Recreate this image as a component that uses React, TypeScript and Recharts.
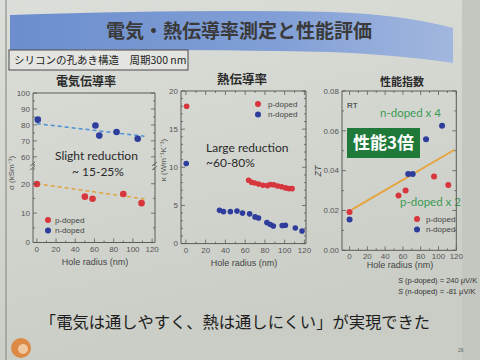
import React from "react";
import { ScatterChart, Scatter, XAxis, YAxis, ReferenceLine } from "recharts";

// 電気伝導率 sigma (kS/m) vs hole radius (nm)
const sigmaNRadius = [1, 61, 65, 83, 105];
const sigmaN = [83.3, 79.6, 73.3, 75.6, 71.3];
const sigmaPRadius = [0, 50, 58, 90, 109];
const sigmaP = [19.9, 15.6, 14.9, 16.5, 13.4];
const sigmaNFit = [[0, 80.8], [112, 72.9]];
const sigmaPFit = [[0, 20.0], [112, 14.8]];

// 熱伝導率 kappa (W/mK)
const kappaPRadius = [0.7, 63.5, 66.5, 69.5, 73.5, 78, 82.5, 85.5, 89, 93, 97, 101, 104.5, 107.5];
const kappaP = [18.0, 8.3, 8.05, 7.95, 7.8, 7.65, 7.6, 7.75, 7.7, 7.55, 7.45, 7.3, 7.2, 7.2];
const kappaNRadius = [0.3, 34, 38, 45, 51.7, 57.3, 64.5, 70, 73.5, 82, 85.5, 88.5, 97.5, 100.7, 110.8, 117.6];
const kappaN = [10.5, 4.36, 4.19, 4.19, 4.27, 4.0, 3.9, 3.5, 3.35, 2.75, 2.5, 2.3, 2.38, 2.4, 2.05, 1.65];

// 性能指数 ZT
const ztPRadius = [0, 55, 63, 95, 111];
const ztP = [0.0192, 0.0275, 0.03, 0.037, 0.0328];
const ztNRadius = [0, 66, 71, 86, 104];
const ztN = [0.0155, 0.0383, 0.0383, 0.0558, 0.0625];
const ztPFit = [[3, 0.0205], [118, 0.0505]];

// ticks
const radiusTicks = [0, 10, 20, 30, 40, 50, 60, 70, 80, 90, 100, 110, 120];
const radiusMajor = [0, 20, 40, 60, 80, 100, 120];
const sigmaHiTicks = [55, 60, 65, 70, 75, 80, 85, 90, 95, 100];
const sigmaHiMajor = [60, 70, 80, 90, 100];
const sigmaLoTicks = [0, 5, 10, 15, 20, 25];
const sigmaLoMajor = [0, 10, 20];
const kappaTicks = [0, 1, 2, 3, 4, 5, 6, 7, 8, 9, 10, 11, 12, 13, 14, 15, 16, 17, 18, 19, 20];
const kappaMajor = [0, 5, 10, 15, 20];
const ztTicks = [0, 0.01, 0.02, 0.03, 0.04, 0.05, 0.06, 0.07, 0.08];
const ztMajor = [0, 0.02, 0.04, 0.06, 0.08];

const RED = "#d6363c";
const BLUE = "#2e3d9c";
const FRAME = "#5a5c58";
const TICKC = "#555";
const JP = '"Noto Sans CJK JP", sans-serif';
const LAT = 'Lato, "Open Sans", sans-serif';
const AX = '"Liberation Sans", Arial, sans-serif';

const PADL = 30, PADR = 12, PADT = 4, PADB = 16, TM = 3;

const pts = (xs: number[], ys: number[]) => xs.map((x, i) => ({ x, y: ys[i] }));
const seg = (s: number[][]) => s.map(([x, y]) => ({ x, y }));
const dot = (fill: string, r: number) => (p: any) => <circle cx={p.cx} cy={p.cy} r={r} fill={fill} />;

const yTick = (major: number[], fmt: (v: number) => string, frameW: number) => (p: any) => {
  const v = p.payload.value;
  const big = major.includes(v);
  const ax = p.x + TM;
  const len = big ? 4 : 2;
  return (
    <g>
      <line x1={ax} x2={ax + len} y1={p.y} y2={p.y} stroke={FRAME} strokeWidth={0.8} />
      <line x1={ax + frameW} x2={ax + frameW - len} y1={p.y} y2={p.y} stroke={FRAME} strokeWidth={0.8} />
      {big && (
        <text x={p.x} y={p.y} dy="0.35em" textAnchor="end" fontSize={8} fill={TICKC} fontFamily={AX}>
          {fmt(v)}
        </text>
      )}
    </g>
  );
};

const xTick = (frameH: number) => (p: any) => {
  const v = p.payload.value;
  const big = radiusMajor.includes(v);
  const ay = p.y - TM;
  const len = big ? 4 : 2;
  return (
    <g>
      <line x1={p.x} x2={p.x} y1={ay} y2={ay - len} stroke={FRAME} strokeWidth={0.8} />
      <line x1={p.x} x2={p.x} y1={ay - frameH} y2={ay - frameH + len} stroke={FRAME} strokeWidth={0.8} />
      {big && (
        <text x={p.x} y={p.y} dy="0.75em" textAnchor="middle" fontSize={8} fill={TICKC} fontFamily={AX}>
          {v}
        </text>
      )}
    </g>
  );
};

interface PanelProps {
  left: number; top: number; w: number; h: number;
  xDomain: [number, number]; yDomain: [number, number];
  yTicks: number[]; yMajor: number[]; yFmt?: (v: number) => string;
  showX: boolean; topLine: boolean; frameH?: number;
  children?: React.ReactNode;
}

function Panel({ left, top, w, h, xDomain, yDomain, yTicks, yMajor, yFmt, showX, topLine, frameH, children }: PanelProps) {
  return (
    <div style={{ position: "absolute", left: left - PADL, top: top - PADT }}>
      <ScatterChart
        width={PADL + w + PADR}
        height={PADT + h + (showX ? PADB : 0)}
        margin={{ top: PADT, right: PADR, left: 0, bottom: 0 }}
      >
        <XAxis
          type="number" dataKey="x" domain={xDomain} allowDataOverflow hide={!showX}
          ticks={radiusTicks} interval={0} tickSize={0} tickMargin={TM} height={PADB}
          axisLine={{ stroke: FRAME }} tickLine={false} tick={xTick(frameH ?? h)}
        />
        <YAxis
          type="number" dataKey="y" domain={yDomain} allowDataOverflow width={PADL}
          ticks={yTicks} interval={0} tickSize={0} tickMargin={TM}
          axisLine={{ stroke: FRAME }} tickLine={false} tick={yTick(yMajor, yFmt ?? ((v) => String(v)), w)}
        />
        <ReferenceLine x={xDomain[1]} stroke={FRAME} ifOverflow="visible" />
        {topLine && <ReferenceLine y={yDomain[1]} stroke={FRAME} ifOverflow="visible" />}
        {children}
      </ScatterChart>
    </div>
  );
}

export default function App() {
  const xd1: [number, number] = [-4, 123];
  return (
    <div style={{ position: "absolute", left: 0, top: 0, width: 480, height: 360, overflow: "hidden" }}>
      <svg width={480} height={360} style={{ position: "absolute", left: 0, top: 0 }}>
        <defs>
          <linearGradient id="bg" x1="0" y1="0" x2="0.3" y2="1">
            <stop offset="0" stopColor="#dcded9" />
            <stop offset="1" stopColor="#cacdc6" />
          </linearGradient>
          <linearGradient id="band" x1="0" y1="0" x2="1" y2="0">
            <stop offset="0" stopColor="#6c8ece" />
            <stop offset="0.6" stopColor="#819fd6" />
            <stop offset="1" stopColor="#a2b7de" />
          </linearGradient>
        </defs>
        <rect width={480} height={360} fill="url(#bg)" />
        <rect x={462} width={18} height={360} fill="#c4c6c0" />
        <line x1={6} x2={6} y1={0} y2={360} stroke="#8e908b" strokeWidth={1.2} />
        <path d="M10,15 Q200,9 330,12 Q400,14 453,28 L453,63 Q400,55 330,52 Q200,49 10,50 Z" fill="url(#band)" />
        <text x={239} y={31} dy="0.35em" textAnchor="middle" fontSize={19} fontWeight={700} fill="#3a3a3a" fontFamily={JP}>
          電気・熱伝導率測定と性能評価
        </text>
        <rect x={9} y={50} width={179} height={20} fill="#e4e5e1" stroke="#4a4a4a" strokeWidth={1} />
        <text x={14} y={60.5} dy="0.35em" fontSize={10.5} fill="#222" fontFamily={JP}>
          シリコンの孔あき構造　周期300 nm
        </text>

        {/* panel titles */}
        <text x={86} y={82} dy="0.35em" textAnchor="middle" fontSize={12} fontWeight={700} fill="#2a2a2a" fontFamily={JP}>電気伝導率</text>
        <text x={242} y={80} dy="0.35em" textAnchor="middle" fontSize={12.5} fontWeight={700} fill="#2a2a2a" fontFamily={JP}>熱伝導率</text>
        <text x={402} y={82} dy="0.35em" textAnchor="middle" fontSize={11} fontWeight={700} fill="#2a2a2a" fontFamily={JP}>性能指数</text>

        {/* axis titles */}
        {[95, 244, 400].map((cx, i) => (
          <text key={cx} x={cx} y={[262, 263, 265][i]} dy="0.35em" textAnchor="middle" fontSize={9} fill="#444" fontFamily={AX}>
            Hole radius (nm)
          </text>
        ))}
        <text transform="translate(11,173) rotate(-90)" dy="0.35em" textAnchor="middle" fontSize={8} fill="#555" fontFamily={AX}>σ (kSm⁻¹)</text>
        <text transform="translate(163,160) rotate(-90)" dy="0.35em" textAnchor="middle" fontSize={8} fill="#555" fontFamily={AX}>κ (Wm⁻¹K⁻¹)</text>
        <text transform="translate(318,171) rotate(-90)" dy="0.35em" textAnchor="middle" fontSize={9} fontStyle="italic" fill="#444" fontFamily={AX}>ZT</text>

        {/* annotations */}
        <text x={55} y={160} fontSize={12} fill="#2a2a2a" fontFamily={LAT}>Slight reduction</text>
        <text x={72} y={176} fontSize={12} fill="#2a2a2a" fontFamily={LAT}>~ 15-25%</text>
        <text x={206} y={152} fontSize={12} fill="#2a2a2a" fontFamily={LAT}>Large reduction</text>
        <text x={206} y={167} fontSize={12} fill="#2a2a2a" fontFamily={LAT}>~60-80%</text>
        <text x={347} y={108} fontSize={8} fill="#222" fontFamily={AX}>RT</text>
        <text x={380} y={117} fontSize={11.5} fill="#3b9a55" fontFamily={LAT}>n-doped x 4</text>
        <rect x={347} y={128} width={73} height={30} fill="#1f7a3a" />
        <text x={383.5} y={143} dy="0.35em" textAnchor="middle" fontSize={17} fontWeight={700} fill="#ffffff" fontFamily={JP}>性能3倍</text>
        <text x={400} y={206} fontSize={11.5} fill="#3b9a55" fontFamily={LAT}>p-doped x 2</text>

        {/* legends */}
        {[
          [48, 220, 55],
          [258, 104, 268],
          [417, 219, 426],
        ].map(([cx, cy, tx]) => (
          <g key={cx}>
            <circle cx={cx} cy={cy} r={3} fill={RED} />
            <text x={tx} y={cy} dy="0.35em" fontSize={8} fill="#444" fontFamily={AX}>p-doped</text>
            <circle cx={cx} cy={cy + 10.5} r={3} fill={BLUE} />
            <text x={tx} y={cy + 10.5} dy="0.35em" fontSize={8} fill="#444" fontFamily={AX}>n-doped</text>
          </g>
        ))}

        <text x={398} y={280} dy="0.35em" fontSize={7.5} fill="#333" fontFamily={AX}>
          <tspan fontStyle="italic">S</tspan> (p-doped) = 240 μV/K
        </text>
        <text x={398} y={291} dy="0.35em" fontSize={7.5} fill="#333" fontFamily={AX}>
          <tspan fontStyle="italic">S</tspan> (n-doped) = -81 μV/K
        </text>

        <text x={235} y={322} dy="0.35em" textAnchor="middle" fontSize={16.3} fill="#1e1e1e" fontFamily={JP}>
          「電気は通しやすく、熱は通しにくい」が実現できた
        </text>

        <circle cx={21} cy={348} r={10} fill="#dd8a45" />
        <circle cx={23} cy={349} r={5} fill="#f1c9a0" />
        <text x={458} y={352} fontSize={5} fill="#666" fontFamily={AX}>26</text>
      </svg>

      {/* 電気伝導率: broken axis, upper part */}
      <Panel left={33} top={93.3} w={122} h={73.4} xDomain={xd1} yDomain={[54, 100]}
        yTicks={sigmaHiTicks} yMajor={sigmaHiMajor} showX={false} topLine>
        <ReferenceLine segment={seg(sigmaNFit)} stroke="#4a90d6" strokeWidth={1.5} strokeDasharray="4 3" />
        <Scatter data={pts(sigmaNRadius, sigmaN)} shape={dot(BLUE, 3.3)} isAnimationActive={false} />
      </Panel>
      {/* 電気伝導率: lower part */}
      <Panel left={33} top={166.7} w={122} h={75.5} xDomain={xd1} yDomain={[0, 25.7]}
        yTicks={sigmaLoTicks} yMajor={sigmaLoMajor} showX topLine={false} frameH={148.9}>
        <ReferenceLine segment={seg(sigmaPFit)} stroke="#e2a33c" strokeWidth={1.5} strokeDasharray="4 3" />
        <Scatter data={pts(sigmaPRadius, sigmaP)} shape={dot(RED, 3.3)} isAnimationActive={false} />
      </Panel>

      {/* 熱伝導率 */}
      <Panel left={180.7} top={90.7} w={125} h={152.6} xDomain={[-5, 121.6]} yDomain={[0, 20]}
        yTicks={kappaTicks} yMajor={kappaMajor} showX topLine>
        <Scatter data={pts(kappaPRadius, kappaP)} shape={dot(RED, 2.8)} isAnimationActive={false} />
        <Scatter data={pts(kappaNRadius, kappaN)} shape={dot(BLUE, 2.8)} isAnimationActive={false} />
      </Panel>

      {/* 性能指数 ZT */}
      <Panel left={341.7} top={90.7} w={114.3} h={159.3} xDomain={[-8.5, 120]} yDomain={[0, 0.08]}
        yTicks={ztTicks} yMajor={ztMajor} yFmt={(v) => v.toFixed(2)} showX topLine>
        <ReferenceLine segment={seg(ztPFit)} stroke="#e6a43e" strokeWidth={2} />
        <Scatter data={pts(ztPRadius, ztP)} shape={dot(RED, 3)} isAnimationActive={false} />
        <Scatter data={pts(ztNRadius, ztN)} shape={dot(BLUE, 3)} isAnimationActive={false} />
      </Panel>

      {/* axis break marks */}
      <svg width={480} height={360} style={{ position: "absolute", left: 0, top: 0, pointerEvents: "none" }}>
        {[33, 155].map((x) => (
          <g key={x} stroke="#555" strokeWidth={0.8}>
            <line x1={x - 3} y1={166} x2={x + 2} y2={162} />
            <line x1={x - 3} y1={170} x2={x + 2} y2={166} />
          </g>
        ))}
      </svg>
    </div>
  );
}
